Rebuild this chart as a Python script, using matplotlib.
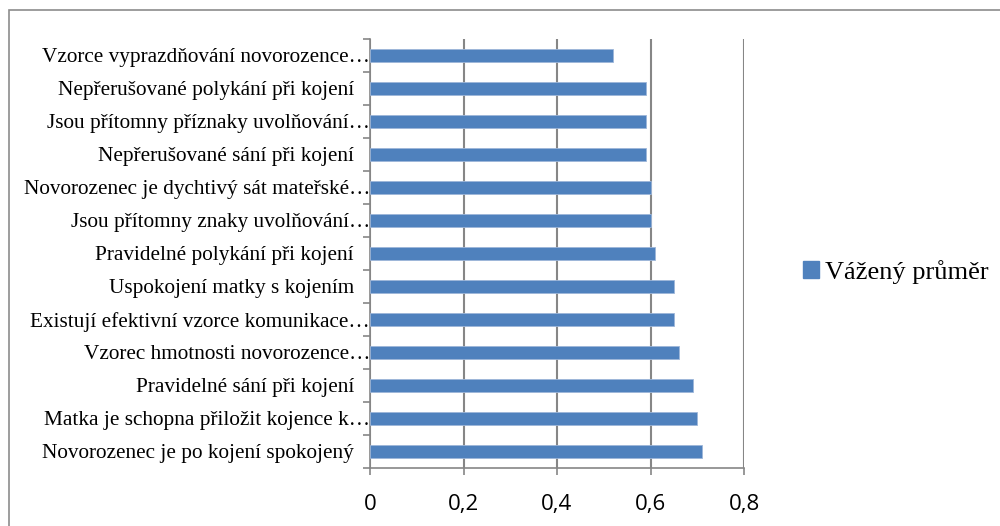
import matplotlib.pyplot as plt
import numpy as np
from matplotlib.patches import Rectangle, Patch

categories = [
    "Novorozenec je po kojení spokojený   ",
    "Matka je schopna přiložit kojence k…",
    "Pravidelné sání při kojení   ",
    "Vzorec hmotnosti novorozence…",
    "Existují efektivní vzorce komunikace…",
    "Uspokojení matky s kojením   ",
    "Pravidelné polykání při kojení   ",
    "Jsou přítomny znaky uvolňování…",
    "Novorozenec je dychtivý sát mateřské…",
    "Nepřerušované sání při kojení   ",
    "Jsou přítomny příznaky uvolňování…",
    "Nepřerušované polykání při kojení   ",
    "Vzorce vyprazdňování novorozence…",
]
values = [0.71, 0.70, 0.69, 0.66, 0.65, 0.65, 0.61, 0.60, 0.60, 0.59, 0.59, 0.59, 0.52]
xticks = [0, 0.2, 0.4, 0.6, 0.8]
xtick_labels = ["0", "0,2", "0,4", "0,6", "0,8"]
series_name = "Vážený průměr"

bar_color = "#4F81BD"
axis_gray = "#868686"

fig = plt.figure(figsize=(10, 5.26), dpi=100)
ax = fig.add_axes([0.37, 0.1103, 0.374, 0.8156])

y = np.arange(len(categories))
ax.barh(y, values, height=0.42, color=bar_color, edgecolor="#9DB6D9", linewidth=0.6, zorder=3)

ax.set_xlim(0, 0.8)
ax.set_ylim(-0.5, len(categories) - 0.5)
ax.set_xticks(xticks)
ax.set_xticklabels(xtick_labels, fontsize=16, family="Open Sans")
ax.xaxis.grid(True, color=axis_gray, linewidth=1.5, zorder=0)

ax.set_yticks(y)
ax.set_yticklabels(categories, fontsize=15.3, family="Liberation Serif")
ax.set_yticks(np.arange(-0.5, len(categories)), minor=True)
ax.tick_params(axis="y", which="major", length=0, pad=0)
ax.tick_params(axis="y", which="minor", length=5, color=axis_gray, width=1.2)
ax.tick_params(axis="x", length=5, color=axis_gray, width=1.2, pad=14)

for side in ["top", "right"]:
    ax.spines[side].set_visible(False)
for side in ["left", "bottom"]:
    ax.spines[side].set_color(axis_gray)
    ax.spines[side].set_linewidth(1.2)

fig.legend(handles=[Patch(color=bar_color, label=series_name)],
           loc="center left", bbox_to_anchor=(0.803, 0.483), frameon=False,
           borderpad=0, borderaxespad=0,
           prop={"family": "Liberation Serif", "size": 19},
           handlelength=0.6, handleheight=0.6, handletextpad=0.25)

# outer chart frame
fig.patches.append(Rectangle((0.009, -0.05), 1.1, 1.05 - 10 / 526,
                             transform=fig.transFigure, fill=False,
                             edgecolor="#8C8C8C", linewidth=1.2))

fig.savefig("out.png", dpi=100)
